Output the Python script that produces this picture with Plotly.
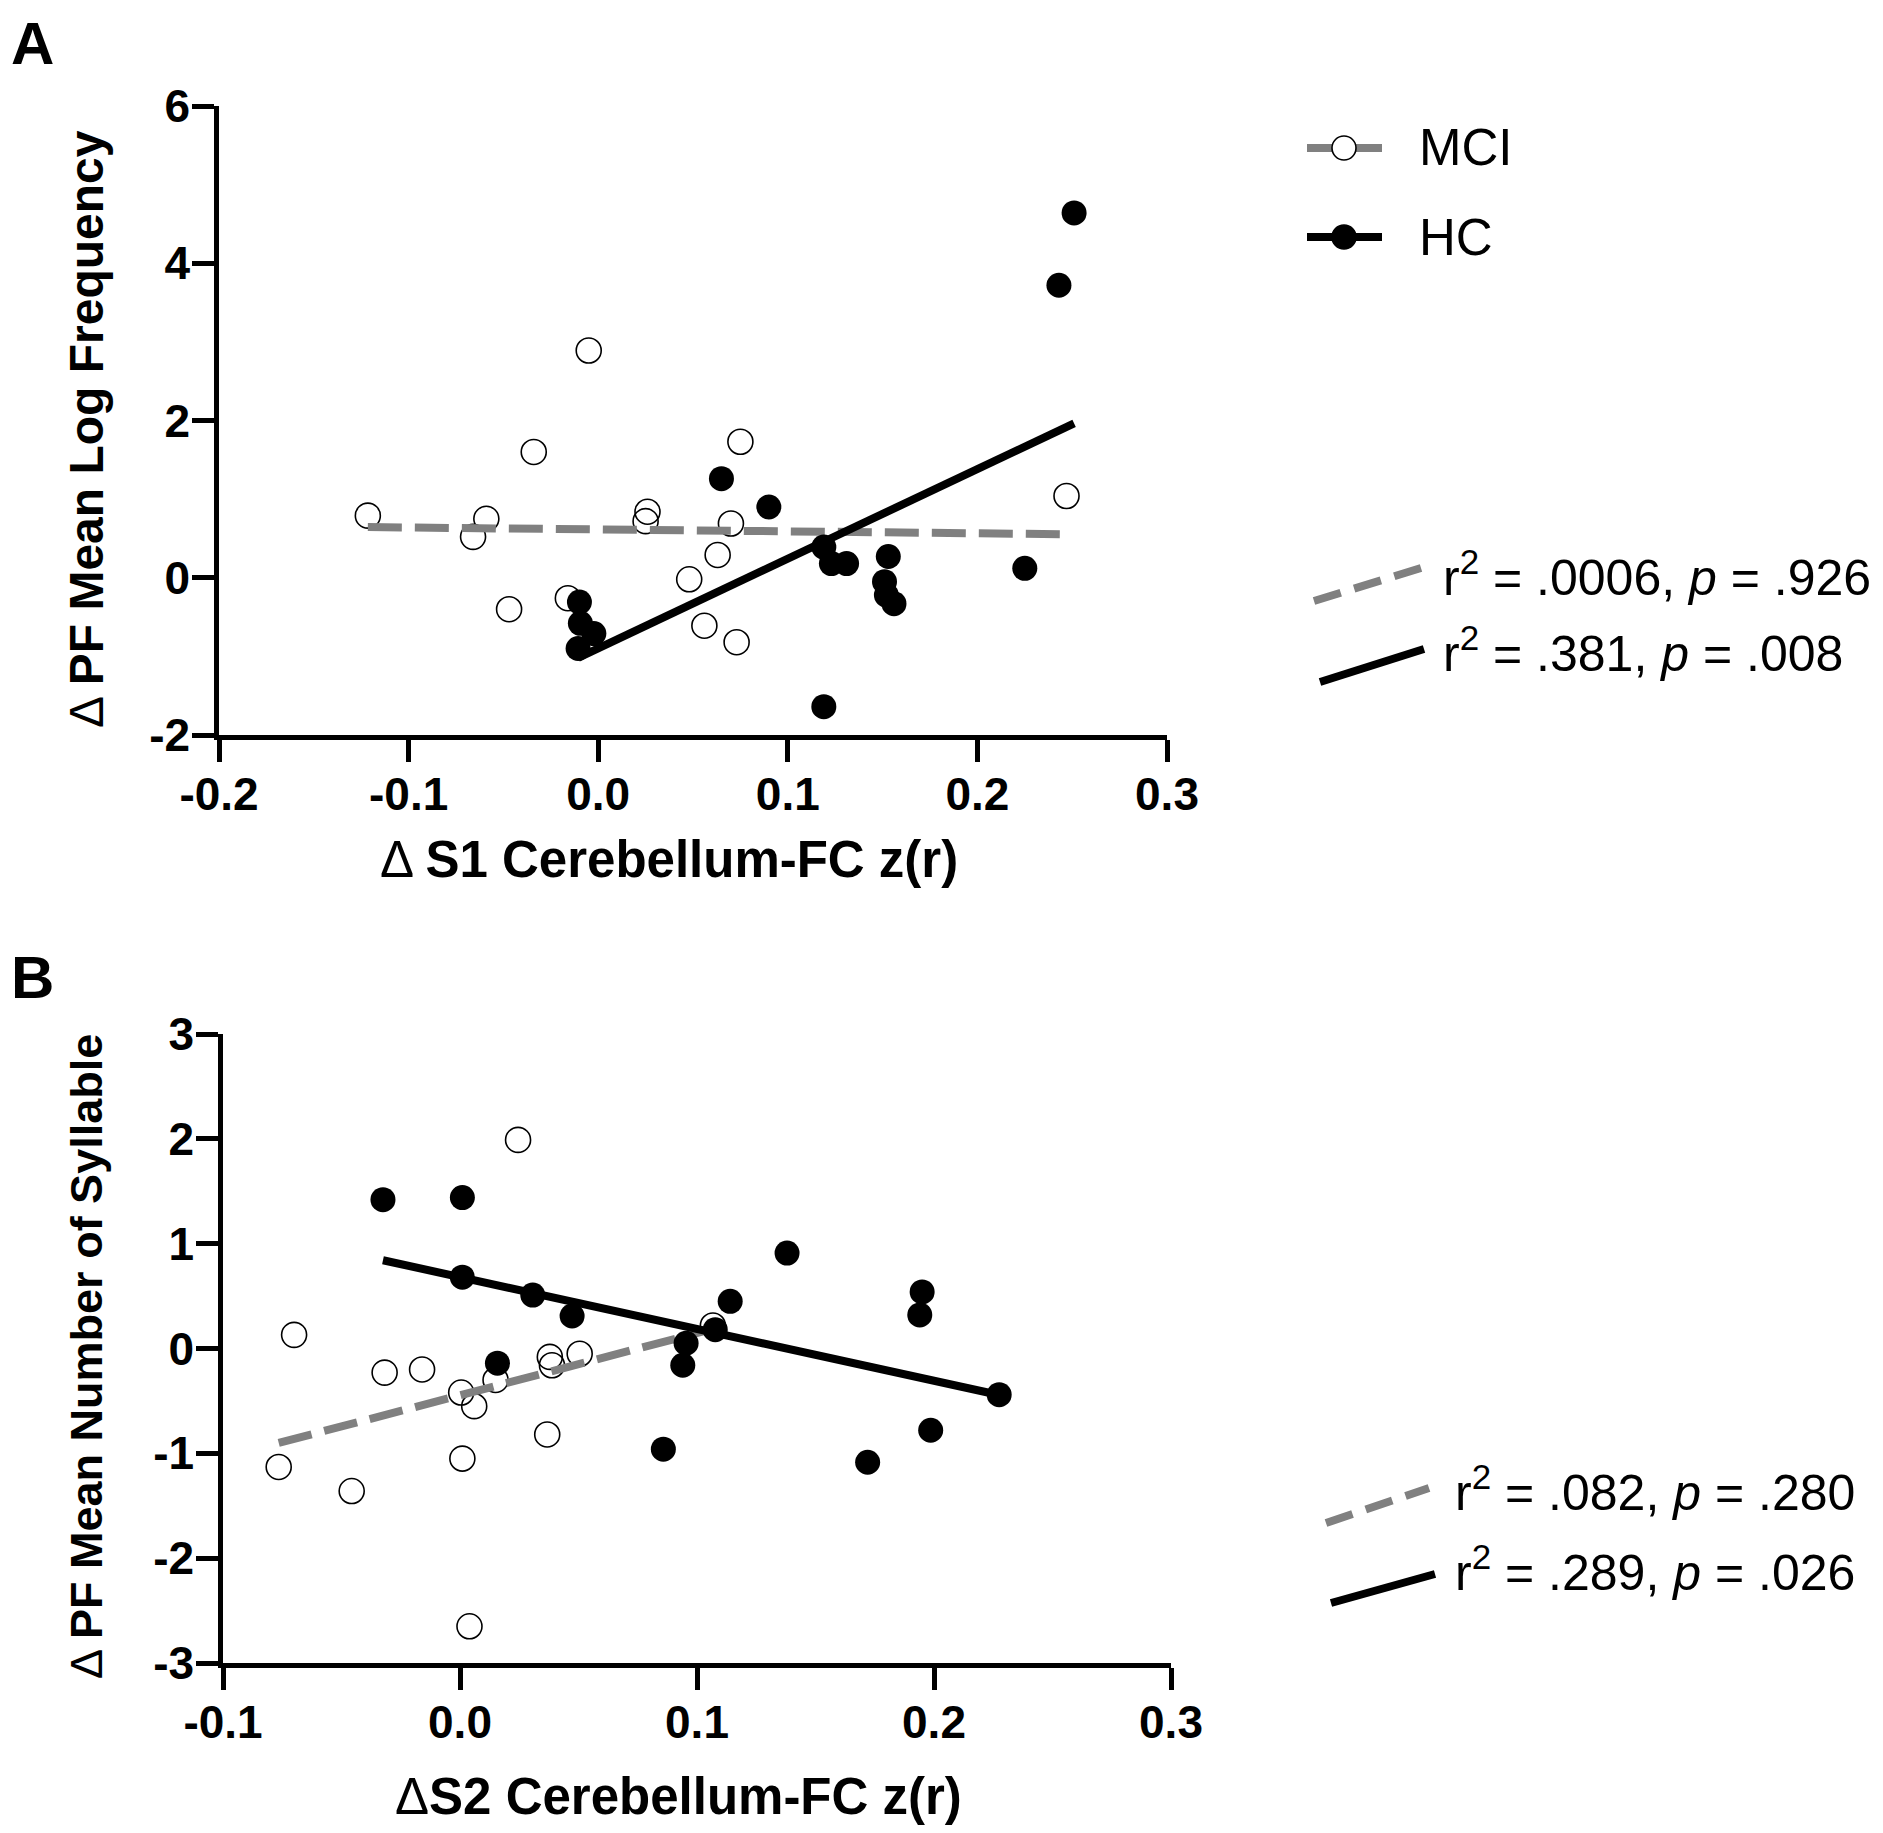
import numpy as np
import plotly.graph_objects as go

# ---- data ----
a_mci_x = [-0.1215, -0.066, -0.059, -0.034, -0.047, -0.005, -0.016, 0.026, 0.025,
           0.048, 0.056, 0.063, 0.070, 0.075, 0.073, 0.247]
a_mci_y = [0.79, 0.52, 0.75, 1.60, -0.40, 2.89, -0.26, 0.84, 0.72,
           -0.02, -0.61, 0.29, 0.69, 1.73, -0.82, 1.04]
a_hc_x = [-0.0099, -0.0094, -0.0023, -0.0106, 0.065, 0.090, 0.119, 0.123, 0.131,
          0.153, 0.151, 0.152, 0.156, 0.225, 0.119, 0.251, 0.243]
a_hc_y = [-0.31, -0.58, -0.71, -0.90, 1.26, 0.90, 0.39, 0.18, 0.18,
          0.27, -0.05, -0.22, -0.33, 0.12, -1.64, 4.64, 3.72]

b_mci_x = [-0.070, -0.0765, -0.0457, -0.0318, -0.016, 0.0245, 0.0005, 0.006,
           0.001, 0.004, 0.015, 0.0379, 0.0388, 0.0505, 0.0368, 0.1067]
b_mci_y = [0.13, -1.13, -1.36, -0.23, -0.20, 1.99, -0.42, -0.55,
           -1.05, -2.65, -0.30, -0.08, -0.16, -0.05, -0.82, 0.22]
b_hc_x = [-0.0325, 0.001, 0.001, 0.0307, 0.0473, 0.0158, 0.0954, 0.094, 0.1077,
          0.114, 0.138, 0.195, 0.194, 0.2275, 0.1986, 0.172, 0.0858]
b_hc_y = [1.42, 1.44, 0.68, 0.51, 0.31, -0.14, 0.05, -0.16, 0.18,
          0.45, 0.91, 0.54, 0.32, -0.44, -0.78, -1.085, -0.96]

a_xticks = [-0.2, -0.1, 0.0, 0.1, 0.2, 0.3]
a_xtext = ['-0.2', '-0.1', '0.0', '0.1', '0.2', '0.3']
a_yticks = [-2, 0, 2, 4, 6]
a_ytext = ['-2', '0', '2', '4', '6']
b_xticks = [-0.1, 0.0, 0.1, 0.2, 0.3]
b_xtext = ['-0.1', '0.0', '0.1', '0.2', '0.3']
b_yticks = [-3, -2, -1, 0, 1, 2, 3]
b_ytext = ['-3', '-2', '-1', '0', '1', '2', '3']

a_stats = ['r<sup>2</sup> = .0006, <i>p</i> = .926', 'r<sup>2</sup> = .381, <i>p</i> = .008']
b_stats = ['r<sup>2</sup> = .082, <i>p</i> = .280', 'r<sup>2</sup> = .289, <i>p</i> = .026']

# page body has an 8px margin, so the figure is a bit smaller than the window
OFF = 8
W, H = 1883 - 2 * OFF, 1833 - 2 * OFF
FONT = 'Liberation Sans, Arial, sans-serif'
GREY = '#808080'


def px(x):
    return (x - OFF) / W


def py(y):
    return 1 - (y - OFF) / H


def fit_line(x, y):
    k, b = np.polyfit(x, y, 1)
    xs = np.array([min(x), max(x)])
    return xs, k * xs + b


fig = go.Figure()


def add_panel(xa, ya, mx, my, hx, hy):
    fig.add_trace(go.Scatter(x=mx, y=my, mode='markers', xaxis=xa, yaxis=ya,
                             marker=dict(symbol='circle-open', size=25, color='black',
                                         line=dict(width=1.6)),
                             cliponaxis=False, showlegend=False))
    lx, ly = fit_line(mx, my)
    fig.add_trace(go.Scatter(x=lx, y=ly, mode='lines', xaxis=xa, yaxis=ya,
                             line=dict(color=GREY, width=8, dash='34px,13px'),
                             showlegend=False))
    fig.add_trace(go.Scatter(x=hx, y=hy, mode='markers', xaxis=xa, yaxis=ya,
                             marker=dict(symbol='circle', size=25, color='black'),
                             cliponaxis=False, showlegend=False))
    lx, ly = fit_line(hx, hy)
    fig.add_trace(go.Scatter(x=lx, y=ly, mode='lines', xaxis=xa, yaxis=ya,
                             line=dict(color='black', width=8), showlegend=False))


add_panel('x', 'y', a_mci_x, a_mci_y, a_hc_x, a_hc_y)
add_panel('x2', 'y2', b_mci_x, b_mci_y, b_hc_x, b_hc_y)

axis_style = dict(showline=True, linewidth=4.5, linecolor='black', ticks='outside',
                  ticklen=22, tickwidth=4.5, tickcolor='black', showgrid=False,
                  zeroline=False, mirror=False, automargin=False, ticklabelstandoff=-7,
                  tickfont=dict(family=FONT, size=46, color='black', weight='bold'))

fig.update_layout(
    width=W, height=H,
    margin=dict(l=0, r=0, t=0, b=0),
    paper_bgcolor='white', plot_bgcolor='white',
    font=dict(family=FONT, color='black'),
    xaxis=dict(domain=[px(219), px(1167)], range=[-0.2, 0.3], anchor='y',
               tickvals=a_xticks, ticktext=a_xtext, **axis_style),
    yaxis=dict(domain=[py(735), py(106)], range=[-2, 6], anchor='x',
               tickvals=a_yticks, ticktext=a_ytext, **axis_style),
    xaxis2=dict(domain=[px(223), px(1171)], range=[-0.1, 0.3], anchor='y2',
                tickvals=b_xticks, ticktext=b_xtext, **axis_style),
    yaxis2=dict(domain=[py(1663), py(1034)], range=[-3, 3], anchor='x2',
                tickvals=b_yticks, ticktext=b_ytext, **axis_style),
)

ann = []


def text(x, y, s, size, xanchor='center', angle=0, yanchor='middle'):
    ann.append(dict(x=px(x), y=py(y), xref='paper', yref='paper', text=s,
                    showarrow=False, xanchor=xanchor, yanchor=yanchor, textangle=angle,
                    font=dict(family=FONT, size=size, color='black')))


# panel letters
text(9, OFF, '<b>A</b>', 60, xanchor='left', yanchor='top')
text(9, 977, '<b>B</b>', 60, xanchor='left')

# axis titles
text(86, 429, 'Δ <b>PF Mean Log Frequency</b>', 48, angle=-90)
text(669, 859, 'Δ <b>S1 Cerebellum-FC z(r)</b>', 51)
text(86, 1357, 'Δ <b>PF Mean Number of Syllable</b>', 45, angle=-90)
text(678, 1796, 'Δ<b>S2 Cerebellum-FC z(r)</b>', 51)

# group legend
text(1417, 148, 'MCI', 51, xanchor='left')
text(1417, 237, 'HC', 51, xanchor='left')

# regression legends
text(1441, 574, a_stats[0], 50, xanchor='left')
text(1441, 650, a_stats[1], 50, xanchor='left')
text(1453, 1489, b_stats[0], 50, xanchor='left')
text(1453, 1569, b_stats[1], 50, xanchor='left')

shapes = []


def seg(x0, y0, x1, y1, color, dash='solid'):
    shapes.append(dict(type='line', xref='paper', yref='paper',
                       x0=px(x0), y0=py(y0), x1=px(x1), y1=py(y1),
                       line=dict(color=color, width=8, dash=dash)))


def dot(cx, cy, r, filled):
    shapes.append(dict(type='circle', xref='paper', yref='paper',
                       x0=px(cx - r), x1=px(cx + r), y0=py(cy + r), y1=py(cy - r),
                       fillcolor='black' if filled else 'white',
                       line=dict(color='black', width=1.6)))


seg(1307, 148, 1382, 148, GREY)
dot(1344, 148, 12, False)
seg(1307, 237, 1382, 237, 'black')
dot(1344, 237, 12, True)

seg(1314, 601, 1421, 568, GREY, dash='28px,14px')
seg(1320, 682, 1424, 649, 'black')
seg(1326, 1523, 1429, 1488, GREY, dash='28px,14px')
seg(1331, 1603, 1435, 1574, 'black')

fig.update_layout(annotations=ann, shapes=shapes)

fig.write_html('out.html')
